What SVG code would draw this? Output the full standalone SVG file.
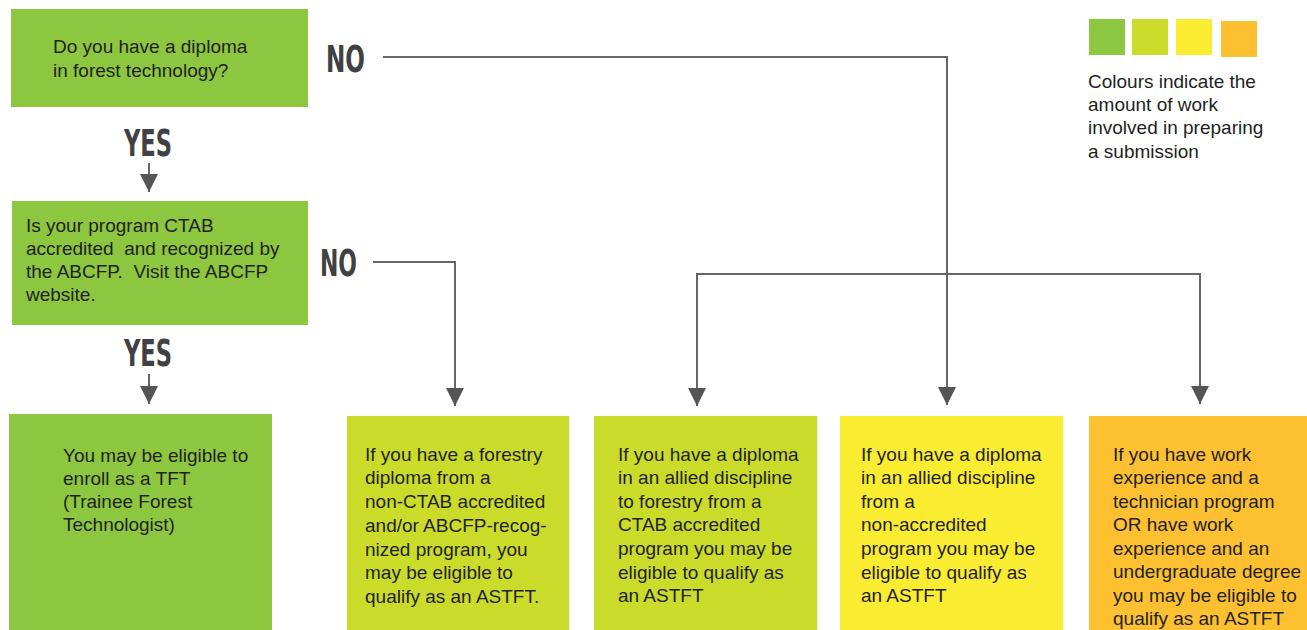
<svg xmlns="http://www.w3.org/2000/svg" width="1307" height="630" viewBox="0 0 1307 630">
<style>
.t{font-family:"Liberation Sans",Arial,sans-serif;font-size:19px;fill:#231f20}
.b{font-family:"Liberation Sans",Arial,sans-serif;font-size:19px;fill:#231f20}
.lab{font-family:"DejaVu Sans Condensed","DejaVu Sans",sans-serif;font-weight:bold;font-size:38px;fill:#414042}
.c{fill:none;stroke:#666;stroke-width:2}
</style>
<defs>
<marker id="ah" markerUnits="userSpaceOnUse" markerWidth="20" markerHeight="18" viewBox="0 0 20 18" refX="18" refY="9" orient="auto">
<path d="M0,0 L18,9 L0,18 Z" fill="#555"/>
</marker>
</defs>
<rect width="1307" height="630" fill="#fff"/>
<g id="q1">
<rect x="11" y="9" width="297" height="98" fill="#8dc63f"/>
<text class="t" x="53" y="53">Do you have a diploma</text>
<text class="t" x="53" y="77">in forest technology?</text>
</g>
<g id="q2">
<rect x="12" y="201" width="296" height="124" fill="#8dc63f"/>
<text class="t" x="26" y="232">Is your program CTAB</text>
<text class="t" x="26" y="255" xml:space="preserve">accredited  and recognized by</text>
<text class="t" x="26" y="278" xml:space="preserve">the ABCFP.  Visit the ABCFP</text>
<text class="t" x="26" y="301">website.</text>
</g>
<g id="a">
<rect x="9" y="414" width="263" height="216" fill="#8dc63f"/>
<text class="b" x="63" y="462">You may be eligible to</text>
<text class="b" x="63" y="485">enroll as a TFT</text>
<text class="b" x="63" y="508">(Trainee Forest</text>
<text class="b" x="63" y="531">Technologist)</text>
</g>
<g id="b">
<rect x="347" y="416" width="222" height="214" fill="#cbdb2a"/>
<text class="b" x="365" y="461">If you have a forestry</text>
<text class="b" x="365" y="484">diploma from a</text>
<text class="b" x="365" y="508">non-CTAB accredited</text>
<text class="b" x="365" y="532">and/or ABCFP-recog-</text>
<text class="b" x="365" y="556">nized program, you</text>
<text class="b" x="365" y="579">may be eligible to</text>
<text class="b" x="365" y="603">qualify as an ASTFT.</text>
</g>
<g id="c">
<rect x="594" y="416" width="223" height="214" fill="#cbdb2a"/>
<text class="b" x="618" y="461">If you have a diploma</text>
<text class="b" x="618" y="484">in an allied discipline</text>
<text class="b" x="618" y="508">to forestry from a</text>
<text class="b" x="618" y="531">CTAB accredited</text>
<text class="b" x="618" y="555">program you may be</text>
<text class="b" x="618" y="579">eligible to qualify as</text>
<text class="b" x="618" y="602">an ASTFT</text>
</g>
<g id="d">
<rect x="840" y="416" width="223" height="214" fill="#f9ec31"/>
<text class="b" x="861" y="461">If you have a diploma</text>
<text class="b" x="861" y="484">in an allied discipline</text>
<text class="b" x="861" y="508">from a</text>
<text class="b" x="861" y="531">non-accredited</text>
<text class="b" x="861" y="555">program you may be</text>
<text class="b" x="861" y="579">eligible to qualify as</text>
<text class="b" x="861" y="602">an ASTFT</text>
</g>
<g id="e">
<rect x="1089" y="416" width="218" height="214" fill="#fdc030"/>
<text class="b" x="1113" y="461">If you have work</text>
<text class="b" x="1113" y="484">experience and a</text>
<text class="b" x="1113" y="508">technician program</text>
<text class="b" x="1113" y="531">OR have work</text>
<text class="b" x="1113" y="555">experience and an</text>
<text class="b" x="1113" y="578">undergraduate degree</text>
<text class="b" x="1113" y="602">you may be eligible to</text>
<text class="b" x="1113" y="625">qualify as an ASTFT</text>
</g>
<g id="legend">
<rect x="1089" y="19" width="36" height="36" fill="#8dc63f"/>
<rect x="1132" y="19" width="36" height="36" fill="#cbdb2a"/>
<rect x="1176" y="19" width="36" height="36" fill="#f9ec31"/>
<rect x="1221" y="21" width="36" height="36" fill="#fdc030"/>
<text class="t" x="1088" y="88">Colours indicate the</text>
<text class="t" x="1088" y="111">amount of work</text>
<text class="t" x="1088" y="134">involved in preparing</text>
<text class="t" x="1088" y="158">a submission</text>
</g>
<g id="labels">
<text class="lab" x="326" y="72" textLength="39" lengthAdjust="spacingAndGlyphs">NO</text>
<text class="lab" x="320" y="276" textLength="37" lengthAdjust="spacingAndGlyphs">NO</text>
<text class="lab" x="124" y="156" textLength="48" lengthAdjust="spacingAndGlyphs">YES</text>
<text class="lab" x="124" y="366" textLength="48" lengthAdjust="spacingAndGlyphs">YES</text>
</g>
<g id="connectors">
<path class="c" d="M149,163 V192" marker-end="url(#ah)"/>
<path class="c" d="M149,374 V404" marker-end="url(#ah)"/>
<path class="c" d="M373,262 H455 V406" marker-end="url(#ah)"/>
<path class="c" d="M383,57 H947 V405" marker-end="url(#ah)"/>
<path class="c" d="M697,406 V274 H1200 V404" marker-end="url(#ah)"/>
<path class="c" d="M697,274 V406" marker-end="url(#ah)"/>
</g>
</svg>
